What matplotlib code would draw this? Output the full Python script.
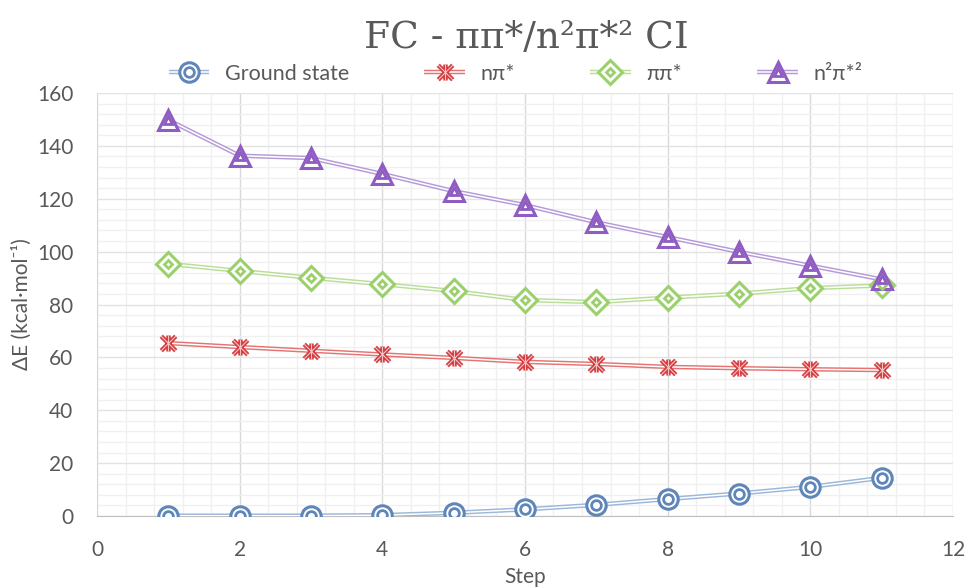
import matplotlib.pyplot as plt
from matplotlib.lines import Line2D
from matplotlib.path import Path
from matplotlib.ticker import MultipleLocator
from matplotlib.legend_handler import HandlerTuple

# Data
steps = [1, 2, 3, 4, 5, 6, 7, 8, 9, 10, 11]
ground = [0.1, 0.1, 0.1, 0.3, 1.2, 2.5, 4.2, 6.4, 8.5, 11.0, 14.4]
n_pi = [65.4, 63.9, 62.5, 61.1, 59.8, 58.3, 57.5, 56.4, 55.9, 55.5, 55.2]
pi_pi = [95.4, 92.7, 90.1, 87.7, 85.1, 81.7, 80.9, 82.6, 84.1, 86.2, 87.2]
n2_pi2 = [149.8, 136.3, 135.4, 129.4, 122.9, 117.6, 111.1, 105.5, 99.9, 94.7, 89.5]
labels = ['Ground state', 'nπ*', 'ππ*', 'n²π*²']

text_color = '#595959'
font = ['Lato', 'DejaVu Sans']

star = Path([(-1, -1), (1, 1), (-1, 1), (1, -1), (0, -1.1), (0, 1.1)],
            [Path.MOVETO, Path.LINETO, Path.MOVETO, Path.LINETO, Path.MOVETO, Path.LINETO])

# (values, line colour, marker colour, marker, outer size, inner size)
series = [
    (ground, '#9bb7da', '#5f86b8', 'o', 14, 7),
    (n_pi, '#e57373', '#d23b3f', star, 11.5, None),
    (pi_pi, '#b9de98', '#9bd06d', 'D', 12, 4.5),
    (n2_pi2, '#b49ad8', '#8f5cc2', '^', 15, 6),
]

fig = plt.figure(figsize=(9.65, 5.87), dpi=100)
ax = fig.add_axes([0.1005, 0.121, 0.887, 0.7205])

handles = []
for vals, lc, mc, mk, s_out, s_in in series:
    outer = Line2D([], [], color=lc, lw=3.2, solid_capstyle='butt')
    inner = Line2D([], [], color='white', lw=1.1, solid_capstyle='butt')
    ax.plot(steps, vals, color=lc, lw=3.2, zorder=3)
    ax.plot(steps, vals, color='white', lw=1.1, zorder=3)
    if s_in is None:
        ax.plot(steps, vals, ls='none', marker=mk, ms=s_out, mew=3.2, mec=mc, zorder=4)
        ax.plot(steps, vals, ls='none', marker=mk, ms=s_out, mew=0.8, mec='#f4c4c4', zorder=5)
        m1 = Line2D([], [], ls='none', marker=mk, ms=s_out, mew=3.2, mec=mc)
        m2 = Line2D([], [], ls='none', marker=mk, ms=s_out, mew=0.8, mec='#f4c4c4')
    else:
        ax.plot(steps, vals, ls='none', marker=mk, ms=s_out, mew=2.2, mec=mc, mfc='white', zorder=4)
        ax.plot(steps, vals, ls='none', marker=mk, ms=s_in, mew=2.0, mec=mc, mfc='white', zorder=5)
        m1 = Line2D([], [], ls='none', marker=mk, ms=s_out, mew=2.2, mec=mc, mfc='white')
        m2 = Line2D([], [], ls='none', marker=mk, ms=s_in, mew=2.0, mec=mc, mfc='white')
    handles.append((outer, inner, m1, m2))

ax.set_xlim(0, 12)
ax.set_ylim(0, 160)
ax.xaxis.set_major_locator(MultipleLocator(2))
ax.xaxis.set_minor_locator(MultipleLocator(0.4))
ax.yaxis.set_major_locator(MultipleLocator(20))
ax.yaxis.set_minor_locator(MultipleLocator(4))
ax.grid(which='minor', color='#f0f0f0', lw=1)
ax.grid(which='major', axis='x', color='#d9d9d9', lw=1)
ax.grid(which='major', axis='y', color='#e3e3e3', lw=1)
ax.set_axisbelow(True)
ax.tick_params(which='both', length=0, labelsize=15, labelcolor=text_color, pad=17)
for lab in ax.get_xticklabels() + ax.get_yticklabels():
    lab.set_family(font)
for side in ['top', 'right']:
    ax.spines[side].set_visible(False)
ax.spines['left'].set_color('#d9d9d9')
ax.spines['bottom'].set_color('#bfbfbf')

ax.set_xlabel('Step', fontsize=15, color=text_color, family=font, labelpad=5)
ax.set_ylabel('ΔE (kcal·mol⁻¹)', fontsize=15, color=text_color, family=font, labelpad=4)

fig.text(0.545, 0.935, 'FC - ππ*/n²π*² CI', ha='center', va='center',
         fontsize=27, color=text_color, family=['DejaVu Serif'])

fig.legend(handles, labels, loc='center', bbox_to_anchor=(0.534, 0.874), ncol=4,
           frameon=False, handlelength=1.9, columnspacing=3.5, handletextpad=0.7,
           handler_map={tuple: HandlerTuple(ndivide=1, pad=0)},
           prop={'family': font, 'size': 15.5}, labelcolor=text_color)

fig.savefig('out.png', dpi=100)
